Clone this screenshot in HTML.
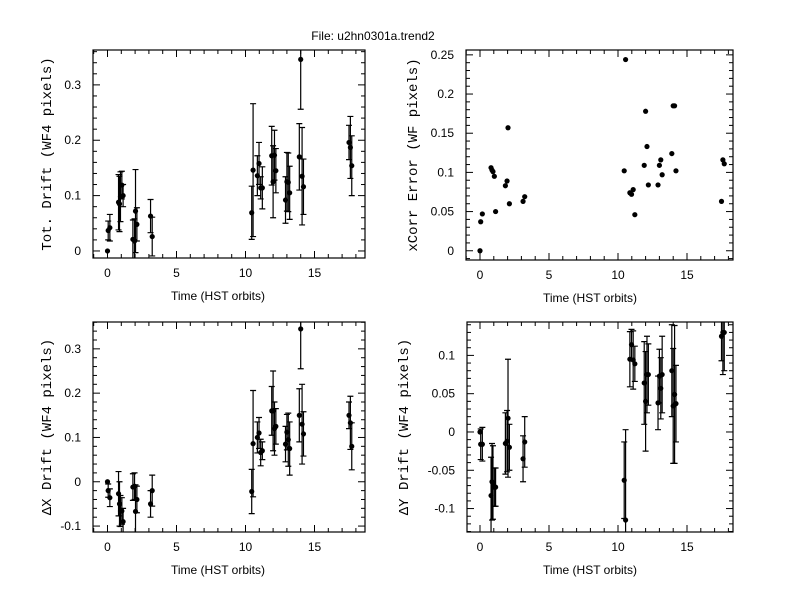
<!DOCTYPE html>
<html><head><meta charset="utf-8"><style>
body{margin:0;background:#fff;}
svg{display:block;}
.tl{font-family:"Liberation Sans",sans-serif;font-size:12px;}
.yl{font-family:"Liberation Mono",monospace;font-size:14px;}
</style></head><body>
<svg id="c" width="792" height="612" xmlns="http://www.w3.org/2000/svg">
<rect width="792" height="612" fill="#fff"/>
<text x="373" y="40" text-anchor="middle" class="tl">File: u2hn0301a.trend2</text>
</svg>
<script>
const times = [0,0.05,0.17,0.8,0.87,0.94,1.04,1.13,1.84,1.96,2.03,2.13,3.12,3.24,10.45,10.55,10.86,10.98,11.1,11.22,11.9,12.0,12.1,12.2,12.9,13.0,13.1,13.2,13.9,14.0,14.1,14.2,17.5,17.6,17.7];
const totDrift = [0,0.037,0.042,0.088,0.085,0.098,0.119,0.1,0.021,0.018,0.072,0.048,0.063,0.026,0.069,0.146,0.136,0.158,0.114,0.114,0.172,0.125,0.173,0.145,0.092,0.125,0.124,0.105,0.17,0.346,0.135,0.116,0.196,0.187,0.154];
const totErr = [0,0.017,0.024,0.05,0.05,0.045,0.025,0.02,0.035,0.04,0.075,0.03,0.03,0.035,0.048,0.12,0.036,0.038,0.02,0.038,0.053,0.065,0.045,0.04,0.042,0.053,0.053,0.048,0.06,0.09,0.088,0.05,0.031,0.056,0.054];
const xcorrErr = [0,0.037,0.047,0.106,0.103,0.101,0.095,0.05,0.083,0.089,0.157,0.06,0.063,0.069,0.102,0.244,0.074,0.072,0.078,0.046,0.109,0.178,0.133,0.084,0.084,0.109,0.116,0.097,0.124,0.185,0.185,0.102,0.063,0.116,0.111];
const dxDrift = [0,-0.02,-0.036,-0.027,-0.05,-0.066,-0.066,-0.09,-0.012,-0.01,-0.067,-0.04,-0.05,-0.02,-0.022,0.086,0.1,0.11,0.066,0.07,0.16,0.16,0.12,0.125,0.085,0.112,0.095,0.075,0.15,0.345,0.13,0.108,0.15,0.133,0.08];
const dxErr = [0,0.015,0.02,0.05,0.05,0.035,0.03,0.03,0.03,0.03,0.06,0.03,0.03,0.035,0.05,0.12,0.035,0.035,0.03,0.02,0.055,0.09,0.06,0.04,0.04,0.04,0.06,0.06,0.06,0.09,0.09,0.05,0.03,0.06,0.053];
const dyDrift = [0,-0.016,-0.016,-0.083,-0.065,-0.066,-0.072,-0.072,-0.015,-0.012,0.018,-0.02,-0.035,-0.013,-0.063,-0.115,0.095,0.114,0.094,0.089,0.064,0.04,0.075,0.075,0.038,0.073,0.057,0.075,0.08,0.034,0.049,0.037,0.125,0.13,0.13];
const dyErr = [0,0.02,0.022,0.05,0.05,0.048,0.025,0.025,0.04,0.04,0.077,0.03,0.03,0.033,0.05,0.118,0.036,0.02,0.038,0.023,0.054,0.065,0.05,0.04,0.035,0.035,0.04,0.05,0.06,0.075,0.09,0.05,0.032,0.055,0.05];
const xTicks = [0,5,10,15];

const svg = document.getElementById('c');
const NS = 'http://www.w3.org/2000/svg';
function el(tag, attrs, parent){const e=document.createElementNS(NS,tag);for(const k in attrs)e.setAttribute(k,attrs[k]);(parent||svg).appendChild(e);return e;}

const panels = [
 {name:'tot-drift',L:93,R:365,T:50,B:258,x0:107.5,vmin:-0.0127,vmax:0.363,major:0.1,minor:0.02,dec:1,label:'Tot. Drift (WF4 pixels)',lx:46,xt:218,vals:totDrift,errs:totErr},
 {name:'xcorr-error',L:466,R:733,T:50,B:260,x0:480,vmin:-0.0118,vmax:0.2562,major:0.05,minor:0.01,dec:2,label:'xCorr Error (WF pixels)',lx:412,xt:590,vals:xcorrErr,errs:null},
 {name:'dx-drift',L:93,R:365,T:322,B:532,x0:107.5,vmin:-0.1134,vmax:0.3606,major:0.1,minor:0.02,dec:1,label:'\u0394X Drift (WF4 pixels)',lx:46,xt:218,vals:dxDrift,errs:dxErr},
 {name:'dy-drift',L:467,R:733,T:322,B:532,x0:480,vmin:-0.1306,vmax:0.1436,major:0.05,minor:0.01,dec:2,label:'\u0394Y Drift (WF4 pixels)',lx:403,xt:590,vals:dyDrift,errs:dyErr}
];
const PX = 13.8;
function fmt(v,d){let s=v.toFixed(d);s=s.replace(/\.?0+$/,'');if(s==='-0')s='0';return s;}

panels.forEach(p=>{
 const g = el('g',{});
 
 
 const xs = t=>p.x0+PX*t;
 const ys = v=>p.B-(v-p.vmin)/(p.vmax-p.vmin)*(p.B-p.T);
 const clip = 'clip-'+p.name;
 const cp = el('clipPath',{id:clip},g); el('rect',{x:p.L,y:p.T,width:p.R-p.L,height:p.B-p.T},cp);
 const fr = el('rect',{x:p.L,y:p.T,width:p.R-p.L,height:p.B-p.T,fill:'none',stroke:'#000','stroke-width':1.2},g);
 
 
 for(let t=-1;t<=19;t++){const x=xs(t);if(x<p.L||x>p.R)continue;const len=(t%5===0)?7:4;
  el('line',{x1:x,y1:p.B,x2:x,y2:p.B-len,stroke:'#000'},g);el('line',{x1:x,y1:p.T,x2:x,y2:p.T+len,stroke:'#000'},g);}
 xTicks.forEach(t=>{const tx=el('text',{x:xs(t),y:p.B+19,'text-anchor':'middle',class:'tl'},g);tx.textContent=t;
  
  });
 const xl=el('text',{x:p.xt,y:p.B+42,'text-anchor':'middle',class:'tl'},g);xl.textContent='Time (HST orbits)';
 
 
 const n0=Math.ceil(p.vmin/p.minor-1e-6), n1=Math.floor(p.vmax/p.minor+1e-6);
 const ratio=Math.round(p.major/p.minor);
 for(let n=n0;n<=n1;n++){const v=n*p.minor;const y=ys(v);const maj=(n%ratio===0);const len=maj?7:4;
  el('line',{x1:p.L,y1:y,x2:p.L+len,y2:y,stroke:'#000'},g);el('line',{x1:p.R,y1:y,x2:p.R-len,y2:y,stroke:'#000'},g);
  if(maj){const tx=el('text',{x:p.L-12,y:y+4,'text-anchor':'end',class:'tl'},g);tx.textContent=fmt(v,p.dec);
   
   }}
 const cy=(p.T+p.B)/2;
 const yl=el('text',{x:p.lx,y:cy,'text-anchor':'middle',class:'yl',transform:`rotate(-90 ${p.lx} ${cy})`,dy:5},g);yl.textContent=p.label;
 
 
 const dg=el('g',{'clip-path':`url(#${clip})`},g);
 times.forEach((t,i)=>{const x=xs(t),y=ys(p.vals[i]);
  if(p.errs&&p.errs[i]>0){const e=p.errs[i];const y1=ys(p.vals[i]+e),y2=ys(p.vals[i]-e);
   const eb=el('path',{d:`M${x},${y1}V${y2}M${x-3},${y1}H${x+3}M${x-3},${y2}H${x+3}`,stroke:'#000','stroke-width':1.2,fill:'none'},dg);
   
   }
  const c=el('circle',{cx:x,cy:y,r:2.6,fill:'#000'},dg);
  
  
 });
});
</script>
</body></html>
